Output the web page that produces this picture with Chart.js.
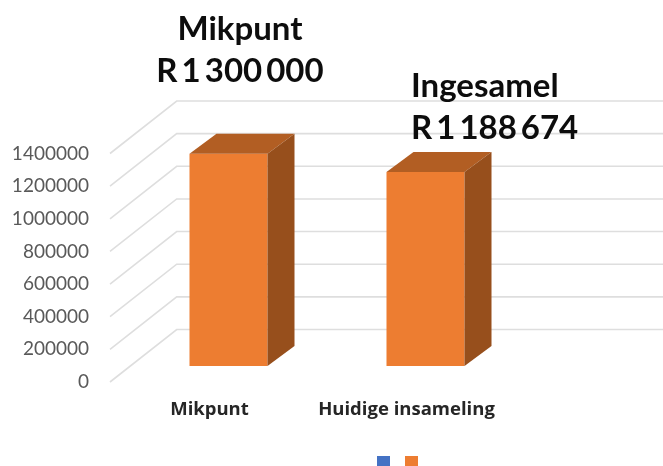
<!DOCTYPE html>
<html>
<head>
<meta charset="utf-8">
<style>
    html, body { margin: 0; padding: 0; background: #fff; overflow: hidden; }
    canvas { display: block; filter: blur(0.4px); }
</style>
<script src="https://cdn.jsdelivr.net/npm/chart.js@4/dist/chart.umd.min.js"></script>
</head>
<body>
<canvas id="grafiek" width="663" height="466"></canvas>
<script>
const kategoriee = ['Mikpunt', 'Huidige insameling'];
const reeksBlou = [null, null];
const reeksOranje = [1300000, 1188674];
const yMin = 0;
const yMax = 1400000;
const yStap = 200000;
const etiket1 = ['Mikpunt', 'R 1 300 000'];
const etiket2 = ['Ingesamel', 'R 1 188 674'];

// Diepte van die 3D-blokke en die muur agter
const diepteX = 27, diepteY = 20;
const muurX = 176.7, voorX = 110, muurDy = 36.5, voorDy = 16;

const drieD = {
    id: 'drieD',
    beforeDatasetsDraw(chart) {
        const ctx = chart.ctx;
        const y = chart.scales.y;
        // Ruitlyne: skuins vloerstuk en dan reguit oor die muur
        ctx.save();
        ctx.strokeStyle = '#dedede';
        ctx.lineWidth = 1.6;
        y.ticks.forEach(t => {
            const py = y.getPixelForValue(t.value);
            ctx.beginPath();
            ctx.moveTo(voorX, py + voorDy);
            ctx.lineTo(muurX, py - muurDy);
            ctx.lineTo(chart.width, py - muurDy);
            ctx.stroke();
        });
        ctx.restore();
    },
    afterDatasetsDraw(chart) {
        const ctx = chart.ctx;
        const bars = chart.getDatasetMeta(1).data;
        bars.forEach(b => {
            const l = b.x - b.width / 2, r = b.x + b.width / 2;
            // bokant
            ctx.fillStyle = '#b25e23';
            ctx.beginPath();
            ctx.moveTo(l, b.y);
            ctx.lineTo(l + diepteX, b.y - diepteY);
            ctx.lineTo(r + diepteX, b.y - diepteY);
            ctx.lineTo(r, b.y);
            ctx.closePath();
            ctx.fill();
            // regterkant
            ctx.fillStyle = '#974f1c';
            ctx.beginPath();
            ctx.moveTo(r, b.y);
            ctx.lineTo(r + diepteX, b.y - diepteY);
            ctx.lineTo(r + diepteX, b.base - diepteY);
            ctx.lineTo(r, b.base);
            ctx.closePath();
            ctx.fill();
        });

        // Opskrifte bo die blokke
        ctx.save();
        ctx.fillStyle = '#0d0d0d';
        ctx.font = 'bold 33px Lato';
        ctx.wordSpacing = '-4px';
        ctx.textBaseline = 'middle';
        ctx.textAlign = 'center';
        ctx.fillText(etiket1[0], 240, 29);
        ctx.fillText(etiket1[1], 240, 71);
        ctx.textAlign = 'left';
        ctx.fillText(etiket2[0], 411, 86);
        ctx.fillText(etiket2[1], 411, 128);
        ctx.restore();

        // Legende onder, half afgesny soos in die prent
        chart.data.datasets.forEach((ds, i) => {
            ctx.fillStyle = ds.backgroundColor;
            ctx.fillRect(377 + i * 28, 456, 13, 13);
        });
    }
};

new Chart(document.getElementById('grafiek'), {
    type: 'bar',
    data: {
        labels: kategoriee,
        datasets: [
            { label: '', data: reeksBlou, backgroundColor: '#4472c4' },
            { label: '', data: reeksOranje, backgroundColor: '#ed7d31' }
        ]
    },
    options: {
        responsive: false,
        animation: false,
        barPercentage: 0.396,
        categoryPercentage: 1,
        layout: { autoPadding: false, padding: { top: 137.5, right: 139 } },
        plugins: { legend: { display: false }, tooltip: { enabled: false } },
        scales: {
            x: {
                stacked: true,
                grid: { display: false },
                border: { display: false },
                afterFit: s => { s.height = 100; },
                ticks: {
                    color: '#262626',
                    font: { family: '"Open Sans"', size: 18.5, weight: 'bold' },
                    padding: 25,
                    labelOffset: -19,
                    maxRotation: 0,
                    autoSkip: false
                }
            },
            y: {
                stacked: true,
                min: yMin,
                max: yMax,
                grid: { display: false },
                border: { display: false },
                afterFit: s => { s.width = 130; },
                ticks: {
                    stepSize: yStap,
                    color: '#595959',
                    font: { family: 'Lato', size: 19 },
                    padding: 33,
                    labelOffset: 16,
                    callback: v => String(v)
                }
            }
        }
    },
    plugins: [drieD]
});
</script>
</body>
</html>
